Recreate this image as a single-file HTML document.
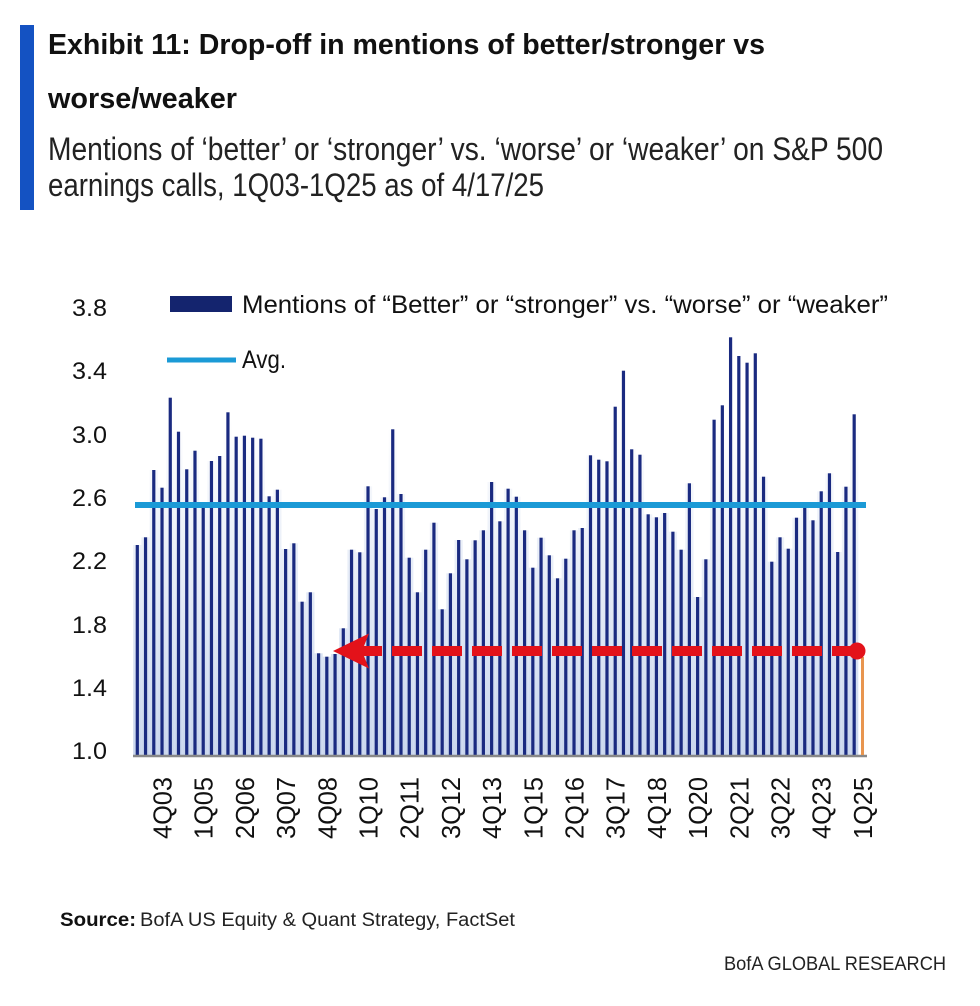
<!DOCTYPE html>
<html>
<head>
<meta charset="utf-8">
<style>
html,body{margin:0;padding:0;background:#fff;}
svg{display:block;}
text{font-family:"Liberation Sans",Arial,sans-serif;}
</style>
</head>
<body>
<svg width="980" height="1006" viewBox="0 0 980 1006" xmlns="http://www.w3.org/2000/svg">
<defs>
<linearGradient id="g" gradientUnits="userSpaceOnUse" x1="0" y1="420" x2="0" y2="755">
<stop offset="0" stop-color="#ffffff"/>
<stop offset="1" stop-color="#c9d6ed"/>
</linearGradient>
</defs>
<rect width="980" height="1006" fill="#fff"/>
<rect x="20" y="25" width="14" height="185" fill="#1452c2"/>
<text x="48" y="54" font-size="29" font-weight="bold" fill="#111" textLength="717" lengthAdjust="spacingAndGlyphs">Exhibit 11: Drop-off in mentions of better/stronger vs</text>
<text x="48" y="108" font-size="29" font-weight="bold" fill="#111" textLength="189" lengthAdjust="spacingAndGlyphs">worse/weaker</text>
<text x="48" y="160" font-size="32" fill="#222" textLength="835" lengthAdjust="spacingAndGlyphs">Mentions of ‘better’ or ‘stronger’ vs. ‘worse’ or ‘weaker’ on S&amp;P 500</text>
<text x="48" y="196" font-size="32" fill="#222" textLength="496" lengthAdjust="spacingAndGlyphs">earnings calls, 1Q03-1Q25 as of 4/17/25</text>

<!-- legend -->
<rect x="170" y="296" width="62" height="16" fill="#14246e"/>
<text x="242" y="313" font-size="25" fill="#111" textLength="646" lengthAdjust="spacingAndGlyphs">Mentions of “Better” or “stronger” vs. “worse” or “weaker”</text>
<rect x="167" y="357.5" width="69" height="5" fill="#1b9ad6"/>
<text x="242" y="368" font-size="25" fill="#111" textLength="44" lengthAdjust="spacingAndGlyphs">Avg.</text>

<!-- y labels -->
<g font-size="24" fill="#111">
<text x="72" y="316" textLength="35" lengthAdjust="spacingAndGlyphs">3.8</text>
<text x="72" y="379" textLength="35" lengthAdjust="spacingAndGlyphs">3.4</text>
<text x="72" y="443" textLength="35" lengthAdjust="spacingAndGlyphs">3.0</text>
<text x="72" y="506" textLength="35" lengthAdjust="spacingAndGlyphs">2.6</text>
<text x="72" y="569" textLength="35" lengthAdjust="spacingAndGlyphs">2.2</text>
<text x="72" y="633" textLength="35" lengthAdjust="spacingAndGlyphs">1.8</text>
<text x="72" y="696" textLength="35" lengthAdjust="spacingAndGlyphs">1.4</text>
<text x="72" y="759" textLength="35" lengthAdjust="spacingAndGlyphs">1.0</text>
</g>

<g id="bars"></g>

<!-- avg line -->
<line x1="135" y1="505" x2="866" y2="505" stroke="#1b9ad6" stroke-width="6"/>
<!-- baseline -->
<line x1="133" y1="756" x2="867" y2="756" stroke="#888" stroke-width="2.5"/>

<!-- orange last bar -->
<line x1="862.5" y1="657" x2="862.5" y2="755" stroke="#e8954f" stroke-width="3"/>
<!-- red dashed arrow -->
<line x1="352" y1="651" x2="857" y2="651" stroke="#e3121a" stroke-width="10" stroke-dasharray="30 10"/>
<polygon points="333,651 369,633.5 364,646 382,646 382,656 364,656 369,668.5" fill="#e3121a"/>
<circle cx="857" cy="651" r="8.5" fill="#e3121a"/>

<!-- x labels -->
<g id="xl" font-size="26" fill="#111"></g>

<!-- footer -->
<text x="60" y="926" font-size="19" font-weight="bold" fill="#111" textLength="76" lengthAdjust="spacingAndGlyphs">Source:</text>
<text x="140" y="926" font-size="19" fill="#222" textLength="375" lengthAdjust="spacingAndGlyphs">BofA US Equity &amp; Quant Strategy, FactSet</text>
<text x="724" y="970" font-size="19" fill="#222" textLength="222" lengthAdjust="spacingAndGlyphs">BofA GLOBAL RESEARCH</text>
</svg>
<script>
(function(){
var tops=[545,537.3,470,487.7,397.7,431.7,469.3,450.7,508,461,456,412.3,436.7,435.7,437.7,438.7,496.3,489.7,549,543.3,601.7,592.3,653.3,656.7,654,628.3,549.7,552.3,486.3,509,497.3,429.3,494,557.7,592.3,549.7,522.7,609.3,573.3,540,559.3,540.3,530.3,482,521.3,488.7,496.7,530.3,567.7,537.7,555.3,578.3,558.7,530.3,528,455.3,459.7,461.3,406.7,370.7,449.3,454.7,514.3,517.3,513,531.7,549.7,483.3,597,559.3,419.7,405.3,337.3,356,362.7,353.3,476.7,561.7,537.3,548.7,517.7,507.7,520.3,491.3,473.3,552,486.7,414.3];
var ns="http://www.w3.org/2000/svg";
var g=document.getElementById("bars");
var base=755;
for(var i=0;i<tops.length;i++){
 var x=137.3+i*8.24;
 var r=document.createElementNS(ns,"rect");
 r.setAttribute("x",(x-4.12).toFixed(2));r.setAttribute("y",tops[i]);
 r.setAttribute("width","8.24");r.setAttribute("height",(base-tops[i]).toFixed(2));
 r.setAttribute("fill","url(#g)");g.appendChild(r);
}
for(var i=0;i<tops.length;i++){
 var x=137.3+i*8.24;
 var r=document.createElementNS(ns,"rect");
 r.setAttribute("x",(x-1.6).toFixed(2));r.setAttribute("y",tops[i]);
 r.setAttribute("width","3.2");r.setAttribute("height",(base-tops[i]).toFixed(2));
 r.setAttribute("fill","#1a2a80");g.appendChild(r);
}
var labs=["4Q03","1Q05","2Q06","3Q07","4Q08","1Q10","2Q11","3Q12","4Q13","1Q15","2Q16","3Q17","4Q18","1Q20","2Q21","3Q22","4Q23","1Q25"];
var xl=document.getElementById("xl");
for(var k=0;k<labs.length;k++){
 var idx=3+k*5;
 var bx=137.3+idx*8.24+9.5;
 var t=document.createElementNS(ns,"text");
 t.setAttribute("transform","translate("+bx.toFixed(2)+",777) rotate(-90)");
 t.setAttribute("text-anchor","end");
 t.setAttribute("textLength","62");
 t.setAttribute("lengthAdjust","spacingAndGlyphs");
 t.textContent=labs[k];
 xl.appendChild(t);
}
})();
</script>
</body>
</html>
